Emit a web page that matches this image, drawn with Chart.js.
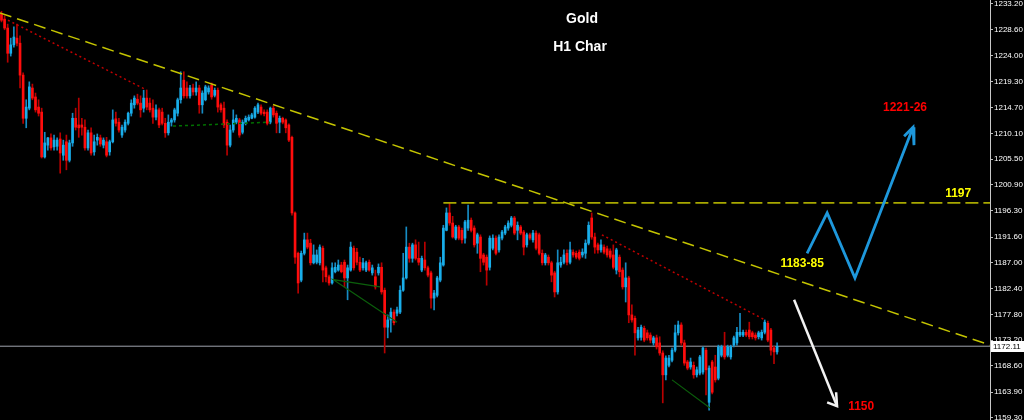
<!DOCTYPE html>
<html><head><meta charset="utf-8">
<script src="https://cdn.jsdelivr.net/npm/chart.js@4.4.1/dist/chart.umd.min.js"></script>
<style>html,body{margin:0;padding:0;background:#000;overflow:hidden}</style>
</head><body>
<canvas id="c" width="1024" height="420"></canvas>
<script>
// ---- data (H1 candles, price values) ----
const opens = [
1231.4,1230.5,1228.9,1224.4,1225.9,1227.1,1226.2,1220.5,1212.8,1214.6,
1218.2,1216.6,1214.8,1213.9,1205.9,1208.0,1209.3,1207.7,1207.8,1209.1,
1206.2,1208.6,1205.3,1208.4,1212.8,1211.6,1211.6,1211.2,1207.5,1210.2,
1206.8,1208.9,1209.3,1208.0,1208.6,1206.8,1208.6,1212.7,1212.1,1209.8,
1210.7,1211.9,1213.7,1215.2,1216.2,1215.5,1214.6,1216.4,1215.5,1214.6,
1213.0,1214.3,1213.9,1211.9,1210.2,1212.1,1212.5,1213.7,1216.1,1219.6,
1218.2,1216.8,1218.2,1217.5,1218.2,1215.2,1216.1,1217.5,1218.7,1216.9,
1217.8,1215.2,1214.6,1212.1,1208.0,1210.7,1212.1,1212.5,1210.3,1211.9,
1212.5,1212.8,1213.0,1213.9,1214.8,1213.9,1213.9,1212.1,1214.6,1213.7,
1212.1,1212.8,1212.5,1211.6,1209.4,1195.9,1188.7,1183.9,1188.7,1191.1,
1190.5,1187.0,1187.1,1187.0,1189.6,1186.1,1184.5,1183.4,1185.4,1185.7,
1186.6,1187.1,1184.3,1185.7,1189.6,1188.9,1187.1,1186.1,1185.7,1187.1,
1185.2,1184.5,1185.2,1186.2,1182.1,1175.5,1176.8,1178.2,1178.0,1178.2,
1182.1,1184.3,1189.8,1187.8,1190.2,1187.8,1185.7,1187.5,1186.1,1185.2,
1180.7,1181.2,1183.9,1186.6,1192.8,1195.9,1194.1,1191.4,1193.4,1192.8,
1191.4,1193.2,1194.6,1193.2,1190.5,1191.6,1188.4,1188.0,1186.2,1189.6,
1191.4,1189.3,1191.4,1192.3,1193.2,1193.7,1195.0,1192.8,1193.4,1192.5,
1190.2,1192.0,1191.1,1192.3,1192.0,1188.7,1187.0,1188.0,1187.0,1185.2,
1181.8,1186.6,1187.1,1188.7,1187.1,1188.9,1188.7,1188.9,1188.4,1188.7,
1190.5,1195.0,1191.6,1190.2,1189.3,1189.8,1189.5,1189.1,1188.4,1185.7,
1188.0,1185.7,1182.7,1184.3,1177.7,1177.1,1173.6,1173.7,1175.3,1174.5,
1174.1,1172.7,1173.6,1172.7,1170.9,1167.0,1168.7,1169.6,1171.4,1174.5,
1175.9,1172.7,1169.3,1168.4,1168.7,1167.0,1167.3,1167.5,1171.4,1162.1,
1169.3,1168.4,1166.4,1170.5,1172.0,1170.5,1170.2,1172.3,1172.7,1174.1,
1174.1,1174.6,1175.0,1174.5,1174.1,1173.8,1173.6,1174.6,1176.2,1175.0,
1171.8,1171.1];
const highs = [
1231.9,1231.1,1229.6,1227.1,1229.1,1229.6,1227.5,1220.9,1216.1,1219.3,
1218.9,1217.3,1216.1,1214.6,1210.3,1209.4,1210.0,1209.8,1209.3,1210.2,
1208.9,1209.8,1208.9,1213.7,1214.6,1216.4,1212.8,1212.5,1210.7,1211.1,
1209.8,1210.0,1209.8,1209.3,1209.4,1208.9,1214.3,1213.9,1212.8,1211.6,
1212.5,1213.9,1216.1,1216.8,1217.1,1216.8,1217.8,1217.8,1216.4,1216.1,
1215.2,1214.6,1214.6,1212.8,1213.4,1212.8,1214.6,1216.4,1221.1,1221.1,
1219.3,1218.7,1218.9,1219.3,1218.7,1217.7,1218.7,1218.6,1219.1,1218.2,
1218.2,1215.5,1215.7,1212.5,1211.6,1214.3,1213.4,1212.8,1212.5,1213.2,
1213.4,1213.7,1214.9,1215.5,1215.2,1214.3,1214.3,1214.8,1215.0,1214.1,
1213.2,1213.0,1212.7,1211.8,1209.6,1196.1,1188.9,1189.1,1192.3,1192.3,
1191.2,1190.2,1189.3,1190.2,1190.0,1186.4,1184.8,1187.0,1187.0,1187.5,
1187.1,1187.5,1186.6,1190.7,1190.0,1189.6,1188.0,1187.8,1187.3,1187.5,
1186.6,1185.7,1186.8,1187.0,1182.5,1177.7,1178.9,1178.6,1179.1,1182.9,
1188.7,1193.4,1190.5,1190.5,1191.1,1190.7,1188.2,1190.7,1186.4,1185.5,
1182.1,1184.6,1188.0,1193.7,1196.8,1197.7,1195.3,1193.7,1193.7,1193.2,
1194.6,1197.3,1195.0,1193.6,1192.3,1192.0,1188.7,1188.4,1191.8,1192.0,
1191.8,1192.0,1192.8,1193.7,1194.5,1195.3,1195.3,1194.3,1193.7,1192.8,
1192.3,1192.3,1192.8,1192.7,1192.3,1189.3,1188.7,1188.4,1187.3,1185.5,
1189.3,1188.0,1189.3,1189.3,1190.7,1189.3,1189.1,1189.3,1189.5,1191.1,
1194.3,1195.9,1192.3,1190.5,1191.1,1190.2,1190.0,1189.5,1190.2,1189.6,
1188.4,1186.1,1187.0,1184.6,1179.5,1177.5,1175.5,1175.9,1175.7,1175.0,
1174.5,1173.9,1174.1,1173.8,1171.3,1170.4,1170.5,1171.8,1175.9,1176.6,
1176.3,1173.2,1169.6,1170.0,1169.3,1168.4,1170.5,1172.0,1171.8,1168.6,
1169.6,1170.5,1172.3,1172.3,1174.6,1172.3,1172.3,1173.9,1175.5,1178.0,
1175.0,1175.0,1176.4,1174.8,1174.5,1174.8,1175.0,1176.8,1176.6,1175.3,
1172.1,1172.7];
const lows = [
1230.0,1228.6,1222.8,1223.9,1225.5,1225.7,1218.2,1211.9,1211.1,1214.3,
1216.1,1213.9,1213.2,1205.7,1205.7,1207.1,1207.1,1207.1,1207.1,1203.0,
1205.3,1203.6,1205.0,1207.8,1210.7,1209.4,1209.8,1207.1,1207.1,1206.2,
1206.2,1208.0,1207.8,1207.5,1205.9,1206.2,1208.4,1211.4,1210.3,1209.4,
1210.3,1211.6,1213.2,1214.6,1215.2,1213.0,1213.9,1214.3,1213.9,1211.9,
1212.5,1211.1,1211.6,1209.4,1209.8,1211.4,1212.1,1213.2,1215.5,1216.4,
1216.4,1216.4,1216.9,1216.9,1213.7,1213.7,1215.9,1217.1,1216.2,1216.6,
1213.9,1213.9,1211.1,1206.2,1207.7,1210.3,1211.8,1209.4,1210.0,1211.6,
1212.3,1212.7,1212.8,1213.6,1213.4,1213.2,1211.6,1211.8,1213.0,1210.2,
1210.2,1211.8,1210.2,1208.6,1195.5,1186.9,1181.6,1183.6,1188.4,1189.5,
1186.6,1186.8,1186.8,1186.6,1183.6,1183.6,1183.0,1183.2,1185.2,1185.5,
1185.2,1182.7,1180.4,1185.5,1185.7,1186.6,1185.4,1185.7,1185.4,1185.5,
1184.8,1182.3,1184.8,1181.4,1170.9,1173.6,1174.6,1175.9,1177.5,1177.9,
1181.9,1184.1,1187.1,1187.1,1187.5,1186.6,1185.4,1185.7,1184.5,1178.9,
1178.6,1180.9,1183.6,1186.4,1192.7,1193.7,1191.4,1191.1,1191.1,1190.5,
1190.5,1192.8,1192.5,1189.8,1188.7,1185.4,1186.6,1183.0,1185.7,1189.3,
1188.4,1188.9,1191.1,1192.0,1192.8,1193.4,1192.0,1191.1,1192.0,1188.4,
1189.8,1191.1,1190.7,1189.3,1188.4,1186.6,1186.6,1186.6,1183.6,1180.9,
1181.4,1186.2,1186.8,1186.6,1186.8,1188.0,1187.7,1187.5,1188.0,1187.8,
1190.2,1191.2,1188.7,1188.7,1188.9,1188.6,1188.0,1187.7,1185.9,1185.0,
1184.5,1182.3,1180.0,1176.3,1176.4,1170.5,1173.2,1173.2,1172.9,1173.2,
1172.7,1172.3,1171.6,1170.5,1162.0,1166.1,1168.4,1169.3,1171.1,1174.1,
1172.3,1168.7,1167.9,1168.0,1166.4,1166.6,1167.0,1167.1,1163.4,1160.7,
1163.6,1165.7,1166.1,1170.2,1169.8,1170.2,1169.8,1172.0,1172.3,1173.8,
1173.8,1173.8,1173.4,1173.4,1173.2,1173.4,1173.2,1174.3,1172.9,1170.5,
1169.0,1170.7];
const closes = [
1230.3,1228.9,1224.4,1225.9,1227.3,1226.2,1220.5,1212.8,1214.8,1218.4,
1216.4,1214.3,1213.7,1205.9,1208.4,1209.3,1207.5,1208.9,1208.9,1206.6,
1208.0,1205.3,1208.4,1212.8,1211.2,1211.1,1211.2,1207.5,1210.2,1206.6,
1208.6,1209.4,1208.2,1208.9,1206.2,1208.6,1212.5,1211.9,1210.7,1211.2,
1212.1,1213.7,1215.5,1216.4,1215.5,1214.3,1216.4,1214.8,1214.3,1213.0,
1214.3,1211.6,1211.9,1210.2,1212.1,1212.5,1214.3,1216.1,1218.2,1216.8,
1216.8,1218.2,1217.5,1218.2,1215.2,1217.3,1218.4,1218.2,1216.6,1217.8,
1214.8,1214.3,1211.6,1208.0,1210.7,1212.5,1212.8,1209.8,1212.1,1212.8,
1213.0,1213.4,1214.6,1215.2,1213.7,1213.6,1211.9,1214.6,1213.4,1211.9,
1212.8,1212.1,1211.1,1208.9,1195.9,1188.0,1183.4,1188.7,1191.1,1189.8,
1187.0,1188.4,1188.4,1189.8,1185.7,1184.5,1183.4,1186.1,1186.2,1186.6,
1185.4,1184.3,1186.1,1189.8,1186.1,1187.1,1185.7,1187.0,1187.0,1185.7,
1186.1,1182.7,1186.2,1181.8,1175.5,1176.8,1178.2,1176.3,1178.6,1182.1,
1184.3,1189.8,1187.8,1190.2,1187.8,1187.1,1187.8,1186.1,1184.8,1180.7,
1181.6,1184.3,1187.0,1193.2,1195.9,1194.1,1191.6,1193.4,1191.4,1191.1,
1194.3,1194.6,1192.8,1190.2,1192.0,1187.8,1187.1,1185.7,1191.4,1191.4,
1188.7,1191.6,1192.5,1193.4,1194.1,1195.0,1192.3,1193.7,1192.3,1189.8,
1192.0,1191.4,1192.3,1189.6,1188.7,1187.0,1188.4,1187.0,1184.8,1181.8,
1187.0,1187.1,1188.4,1187.1,1189.3,1188.4,1188.0,1187.8,1188.9,1190.5,
1193.7,1191.6,1189.8,1189.3,1190.2,1188.9,1188.4,1188.0,1186.2,1189.3,
1185.4,1182.7,1184.3,1177.7,1176.8,1174.5,1175.0,1175.5,1173.2,1173.6,
1173.2,1173.6,1172.0,1170.9,1167.0,1170.0,1170.0,1171.4,1174.5,1175.9,
1172.7,1169.1,1168.2,1169.3,1167.0,1167.9,1170.2,1171.8,1167.9,1168.2,
1163.9,1166.1,1172.0,1172.0,1170.2,1172.0,1172.0,1173.6,1174.6,1174.6,
1174.6,1174.1,1173.8,1173.8,1173.6,1174.5,1174.6,1176.4,1173.2,1171.4,
1171.1,1172.1];

const yTicks = [1233.20,1228.60,1224.00,1219.30,1214.70,1210.10,1205.50,1200.90,1196.30,1191.60,1187.00,1182.40,1177.80,1173.20,1168.60,1163.90,1159.30];
const currentPrice = 1172.11;
const titleLines = ["Gold", "H1 Char"];

// drawn analysis objects: [candle index, price]
const trendLine   = [[-0.5,1231.6],[320,1172.3]];
const level1197   = [[143,1197.7],[320,1197.7]];
const redDotA     = [[2.1,1230.3],[47.1,1217.8]];
const redDotB     = [[194.3,1192.0],[247.1,1176.8]];
const greenDot    = [[55.5,1211.4],[86.9,1212.1]];
const greenA      = [[122.5,1182.7],[107.3,1184.0],[128.0,1176.4]];
const greenB      = [[217.0,1166.1],[229.3,1161.1]];
const blueZig     = [[260.7,1188.7],[267.2,1195.9],[276.2,1184.3],[295.0,1211.2]];
const blueHead    = [[292.1,1209.6],[295.0,1211.2],[295.3,1208.0]];
const whiteArrow  = [[256.5,1180.4],[270.4,1161.4]];
const whiteHead   = [[267.2,1162.1],[270.4,1161.4],[270.1,1163.9]];
const labelTexts  = ["1197","1183-85","1221-26","1150"];
const labelPos    = [[309.6,1199.3],[259.1,1186.9],[292.4,1214.7],[278.2,1161.3]];
const labelColors = ["#ffff00","#ffff00","#ff0000","#ff0000"];

// ---- build ----
const xMin = -0.485, xMax = 319.9;
const idx = closes.map((_, i) => i);
const isUp = idx.map(i => closes[i] >= opens[i]);
const bodyData = idx.map(i => ({x: i, y: [opens[i], closes[i]]}));
const wickData = idx.map(i => ({x: i, y: [lows[i], highs[i]]}));

function lineDs(pts, color, width, dash, order) {
  return {type: 'line', data: pts.map(p => ({x: p[0], y: p[1]})), borderColor: color,
    borderWidth: width, borderDash: dash || [], pointRadius: 0, fill: false, tension: 0,
    order: order, borderCapStyle: 'butt', borderJoinStyle: 'miter'};
}

const overlay = {
  id: 'overlay',
  beforeDraw(chart) {
    const c = chart.ctx; c.save(); c.fillStyle = '#000'; c.fillRect(0, 0, chart.width, chart.height); c.restore();
  },
  afterDraw(chart) {
    const c = chart.ctx, xs = chart.scales.x, ys = chart.scales.y;
    c.save();
    c.textAlign = 'center'; c.textBaseline = 'middle';
    c.fillStyle = '#ffffff'; c.font = 'bold 14px "Liberation Sans", Arial, sans-serif';
    c.fillText(titleLines[0], 582, 19);
    c.fillText(titleLines[1], 580, 47);
    c.font = 'bold 12px "Liberation Sans", Arial, sans-serif';
    labelTexts.forEach((t, k) => {
      c.fillStyle = labelColors[k];
      c.fillText(t, xs.getPixelForValue(labelPos[k][0]), ys.getPixelForValue(labelPos[k][1]));
    });
    const py = Math.round(ys.getPixelForValue(currentPrice));
    c.fillStyle = '#ffffff'; c.fillRect(991, py - 5, 33, 11);
    c.fillStyle = '#000000'; c.font = '8px "Liberation Sans", Arial, sans-serif';
    c.textAlign = 'left'; c.fillText(currentPrice.toFixed(2), 993, py + 0.5);
    c.restore();
  }
};

new Chart(document.getElementById('c'), {
  type: 'bar',
  data: {
    datasets: [
      lineDs(trendLine, '#c4c400', 1.5, [12, 6], 1),
      lineDs(level1197, '#a8a800', 1.6, [13, 5], 1),
      lineDs(redDotA, '#c00000', 1.5, [2, 3], 1),
      lineDs(redDotB, '#c00000', 1.5, [2, 3], 1),
      lineDs(greenDot, '#007000', 1.5, [3, 3], 1),
      lineDs(greenA, '#0b5e0b', 1.2, [], 1),
      lineDs(greenB, '#0b5e0b', 1.2, [], 1),
      lineDs(blueZig, '#1e98dc', 2.8, [], 0),
      lineDs(blueHead, '#1e98dc', 2.8, [], 0),
      lineDs(whiteArrow, '#f2f2f2', 2.5, [], 0),
      lineDs(whiteHead, '#f2f2f2', 2.5, [], 0),
      {type: 'bar', data: bodyData, order: 3, grouped: false, barThickness: 2, minBarLength: 1,
       backgroundColor: isUp.map(u => u ? '#19aeea' : '#ff0d0d'), borderWidth: 0},
      {type: 'bar', data: wickData, order: 4, grouped: false, barThickness: 1,
       backgroundColor: isUp.map(u => u ? '#168cc4' : '#b80000'), borderWidth: 0},
      lineDs([[xMin, currentPrice], [xMax, currentPrice]], '#a0a4ae', 1, [], 5)
    ]
  },
  options: {
    responsive: false, animation: false, devicePixelRatio: 1, events: [],
    layout: {padding: 0},
    plugins: {legend: {display: false}, tooltip: {enabled: false}, title: {display: false}},
    scales: {
      x: {type: 'linear', display: false, min: xMin, max: xMax, offset: false},
      y: {type: 'linear', position: 'right', min: 1158.94, max: 1233.91,
        afterBuildTicks: s => { s.ticks = yTicks.map(v => ({value: v})); },
        afterFit: s => { s.width = 34; s.paddingTop = 0; s.paddingBottom = 0; },
        ticks: {color: '#ffffff', font: {family: 'Liberation Sans', size: 8}, padding: 1, autoSkip: false,
          callback: v => Number(v).toFixed(2)},
        grid: {drawOnChartArea: false, drawTicks: true, tickLength: 3, color: '#bdbdbd'},
        border: {display: true, color: '#c8c8c8', width: 1}
      }
    }
  },
  plugins: [overlay]
});
</script>
</body></html>
